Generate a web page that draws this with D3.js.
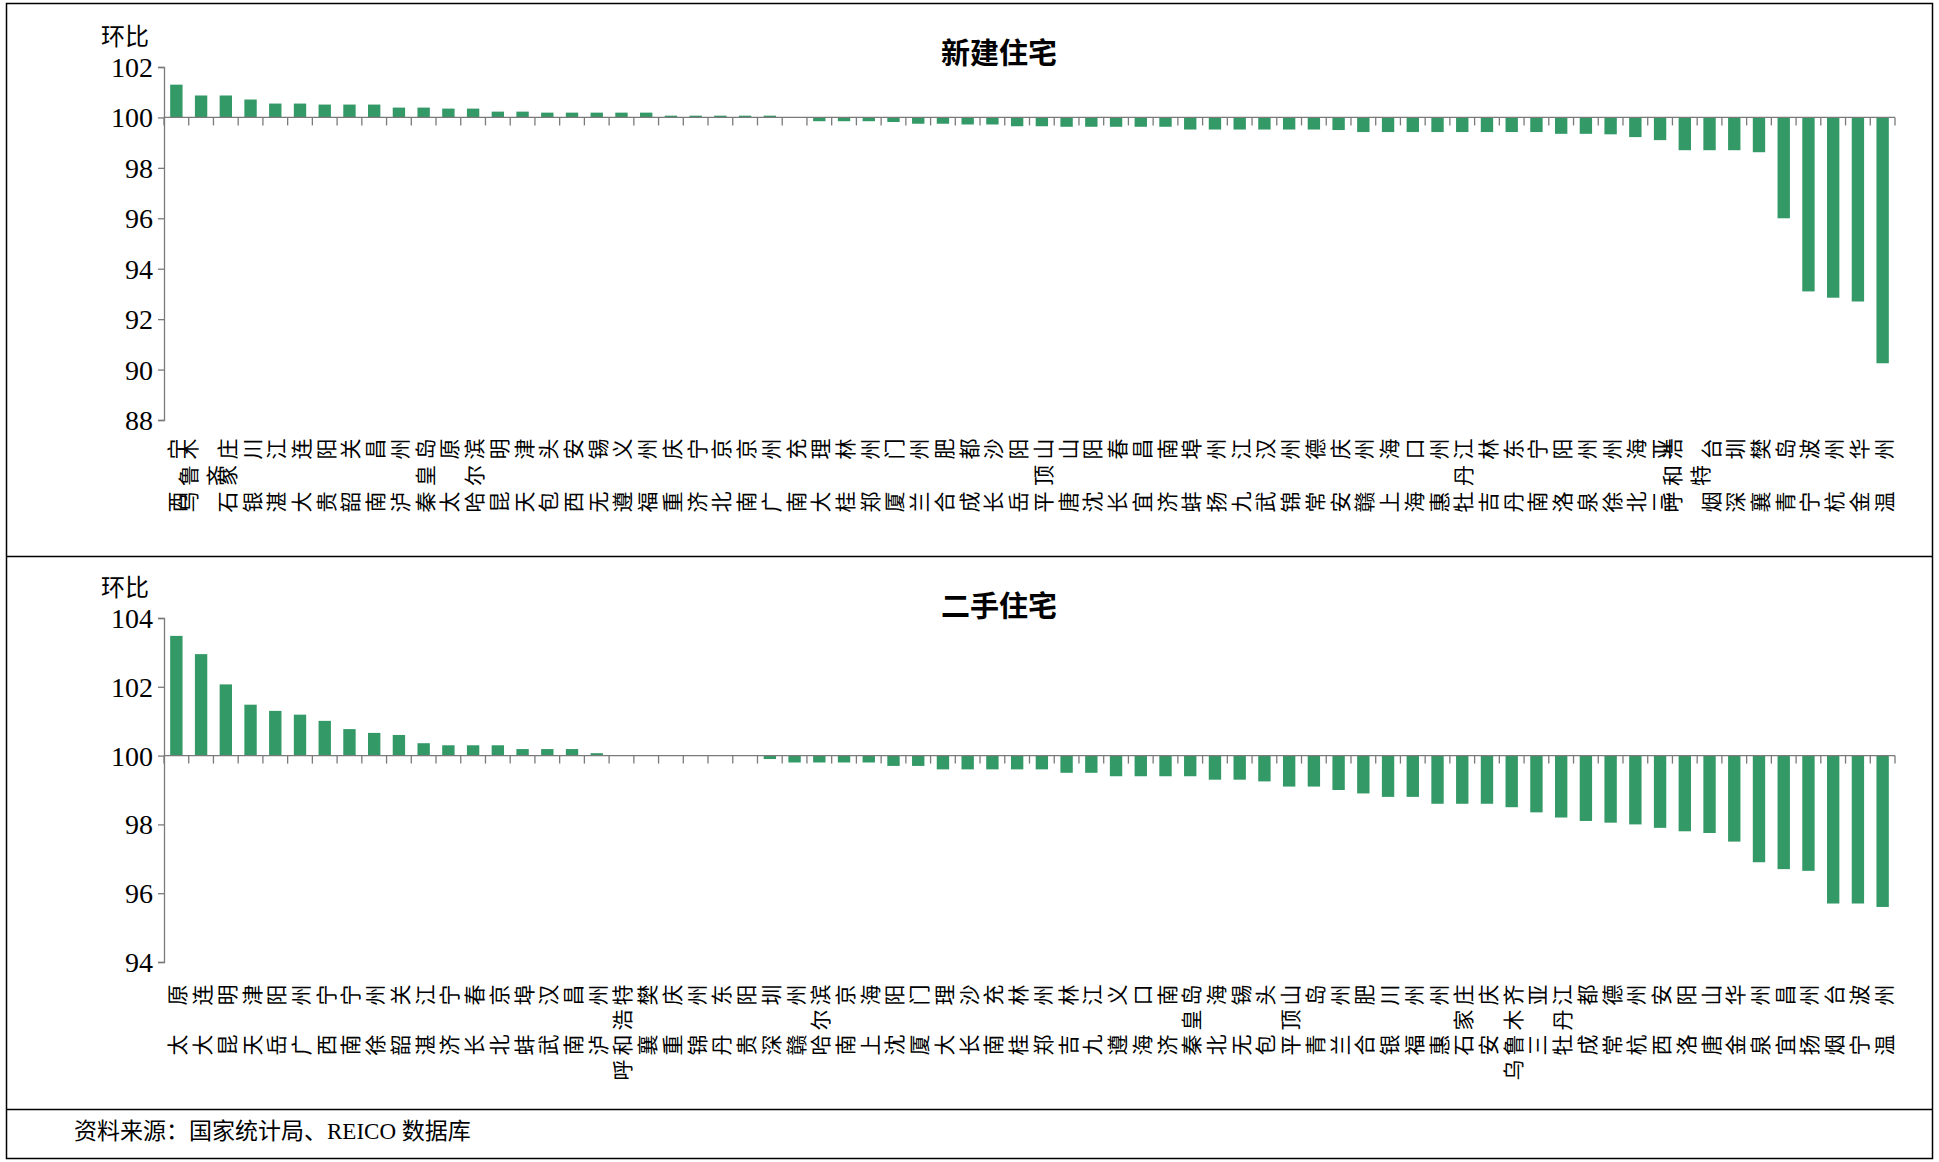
<!DOCTYPE html>
<html>
<head>
<meta charset="utf-8">
<script src="https://cdn.jsdelivr.net/npm/d3@7/dist/d3.min.js"></script>
<style>
  html, body { margin: 0; padding: 0; background: #fff; }
  svg { display: block; }
  text { font-family: "Liberation Serif", "Noto Sans CJK SC", serif; fill: #000; }
</style>
</head>
<body>
<svg id="chart" width="1939" height="1162"></svg>
<script>
// 70 城市房价环比指数（上月=100）
const newCities = ["西宁","乌鲁木齐","石家庄","银川","湛江","大连","贵阳","韶关","南昌","泸州",
  "秦皇岛","太原","哈尔滨","昆明","天津","包头","西安","无锡","遵义","福州",
  "重庆","济宁","北京","南京","广州","南充","大理","桂林","郑州","厦门",
  "兰州","合肥","成都","长沙","岳阳","平顶山","唐山","沈阳","长春","宜昌",
  "济南","蚌埠","扬州","九江","武汉","锦州","常德","安庆","赣州","上海",
  "海口","惠州","牡丹江","吉林","丹东","南宁","洛阳","泉州","徐州","北海",
  "三亚","呼和浩特","烟台","深圳","襄樊","青岛","宁波","杭州","金华","温州"];
const newValues = [101.3,100.87,100.87,100.71,100.55,100.55,100.51,100.51,100.51,100.39,
  100.39,100.35,100.35,100.23,100.23,100.19,100.19,100.19,100.19,100.19,
  100.07,100.07,100.07,100.07,100.07,100.0,99.85,99.85,99.85,99.82,
  99.75,99.75,99.72,99.72,99.65,99.65,99.63,99.63,99.63,99.63,
  99.63,99.52,99.52,99.52,99.52,99.52,99.52,99.5,99.42,99.42,
  99.42,99.42,99.42,99.42,99.42,99.42,99.35,99.35,99.33,99.22,
  99.1,98.7,98.7,98.7,98.62,96.0,93.1,92.85,92.7,90.25];
const newTicks = [88, 90, 92, 94, 96, 98, 100, 102];

const usedCities = ["太原","大连","昆明","天津","岳阳","广州","西宁","南宁","徐州","韶关",
  "湛江","济宁","长春","北京","蚌埠","武汉","南昌","泸州","呼和浩特","襄樊",
  "重庆","锦州","丹东","贵阳","深圳","赣州","哈尔滨","南京","上海","沈阳",
  "厦门","大理","长沙","南充","桂林","郑州","吉林","九江","遵义","海口",
  "济南","秦皇岛","北海","无锡","包头","平顶山","青岛","兰州","合肥","银川",
  "福州","惠州","石家庄","安庆","乌鲁木齐","三亚","牡丹江","成都","常德","杭州",
  "西安","洛阳","唐山","金华","泉州","宜昌","扬州","烟台","宁波","温州"];
const usedValues = [103.48,102.95,102.07,101.48,101.3,101.19,101.01,100.77,100.66,100.6,
  100.36,100.3,100.3,100.3,100.19,100.19,100.19,100.07,100.0,100.0,
  100.0,100.0,100.0,100.0,99.9,99.8,99.8,99.8,99.8,99.7,
  99.7,99.6,99.6,99.6,99.6,99.6,99.5,99.5,99.4,99.4,
  99.4,99.4,99.3,99.3,99.25,99.1,99.1,99.0,98.9,98.8,
  98.8,98.6,98.6,98.6,98.5,98.35,98.2,98.1,98.05,98.0,
  97.9,97.8,97.75,97.5,96.9,96.7,96.65,95.7,95.7,95.6];
const usedTicks = [94, 96, 98, 100, 102, 104];

const titles = ["新建住宅", "二手住宅"];
const yAxisTitle = "环比";
const sourceNote = "资料来源：国家统计局、REICO 数据库";

const svg = d3.select("#chart");
const W = 1939, H = 1162;
const BAR = "#339966", AXIS = "#7a7a7a";

svg.append("rect").attr("width", W).attr("height", H).attr("fill", "#fff");
// outer frame and panel separators
svg.append("rect").attr("x", 6.5).attr("y", 3.5).attr("width", 1926).attr("height", 1155)
  .attr("fill", "none").attr("stroke", "#000").attr("stroke-width", 1.5);
[556.5, 1109.5].forEach(y => svg.append("line").attr("x1", 6.5).attr("x2", 1932.5)
  .attr("y1", y).attr("y2", y).attr("stroke", "#000").attr("stroke-width", 1.5));

function drawPanel(opt) {
  const g = svg.append("g");
  const x = d3.scaleBand().domain(opt.cities).range([164, 1895])
    .paddingInner(0.5).paddingOuter(0.25);
  const y = d3.scaleLinear().domain(d3.extent(opt.ticks)).range([opt.yBottom, opt.yTop]);
  const base = y(100);

  // bars grow from the 100 line
  g.selectAll("rect.bar").data(opt.values).join("rect")
    .attr("class", "bar")
    .attr("x", (d, i) => x(opt.cities[i]))
    .attr("width", x.bandwidth())
    .attr("y", d => y(Math.max(d, 100)))
    .attr("height", d => Math.abs(y(d) - base))
    .attr("fill", BAR);

  // y axis
  const yAxis = d3.axisLeft(y).tickValues(opt.ticks).tickSize(6).tickFormat(d3.format("d"));
  const ya = g.append("g").attr("transform", "translate(164,0)").call(yAxis);
  ya.select(".domain").attr("stroke", AXIS).attr("stroke-width", 1.3);
  ya.selectAll(".tick line").attr("stroke", AXIS).attr("stroke-width", 1.3);
  ya.selectAll(".tick text").attr("x", -11).attr("dy", "0.34em")
    .style("font-size", "28px").style("font-family", "'Liberation Serif', serif");

  // category axis on the 100 line: boundary ticks pointing down
  const step = x.step();
  const x0 = 164;
  const ax = g.append("g");
  ax.append("line").attr("x1", x0).attr("x2", 1895).attr("y1", base).attr("y2", base)
    .attr("stroke", AXIS).attr("stroke-width", 1.3);
  ax.selectAll("line.tk").data(d3.range(opt.cities.length + 1)).join("line")
    .attr("class", "tk")
    .attr("x1", i => x0 + i * step).attr("x2", i => x0 + i * step)
    .attr("y1", base).attr("y2", base + 8)
    .attr("stroke", AXIS).attr("stroke-width", 1.3);

  // vertical city labels, characters stacked downward
  const pitch = opt.pitch;
  opt.cities.forEach((name, i) => {
    const cx = x(name) + x.bandwidth() / 2;
    let lines;
    if (name.length === 2) lines = [name[0] + "\u3000" + name[1]];
    else if (name.length === 4 && opt.wrapLong) lines = [name.slice(0, 3), name.slice(3)];
    else lines = [name];
    const rows = lines[0].length;
    const t = g.append("text")
      .attr("transform", `translate(${cx},0) rotate(-90)`)
      .attr("dominant-baseline", "central")
      .style("font-size", "21px")
      .style("font-family", "'Noto Sans CJK SC', sans-serif");
    lines.forEach((ln, li) => {
      const off = lines.length > 1 ? (li === 0 ? -opt.lineGap / 2 : opt.lineGap / 2) : 0;
      const shift = (rows - ln.length) / 2;
      for (let j = 0; j < ln.length; j++) {
        const r = ln.length - 1 - j + shift;
        t.append("tspan")
          .attr("x", -(opt.labelTop + r * pitch))
          .attr("y", off)
          .attr("text-anchor", "middle")
          .text(ln[j]);
      }
    });
  });

  // titles
  g.append("text").attr("x", 101).attr("y", opt.yTop - 33).attr("dominant-baseline", "central")
    .style("font-size", "24px").style("font-family", "'Noto Sans CJK SC', sans-serif")
    .text(yAxisTitle);
  g.append("text").attr("x", 999).attr("y", opt.titleY).attr("text-anchor", "middle")
    .attr("dominant-baseline", "central")
    .style("font-size", "29px").style("font-weight", "bold")
    .style("font-family", "'Noto Sans CJK SC', sans-serif")
    .text(opt.title);
}

drawPanel({ cities: newCities, values: newValues, ticks: newTicks,
  yTop: 67, yBottom: 420, title: titles[0], titleY: 51,
  labelTop: 449, pitch: 26.5, wrapLong: true, lineGap: 28 });
drawPanel({ cities: usedCities, values: usedValues, ticks: usedTicks,
  yTop: 618, yBottom: 962, title: titles[1], titleY: 604,
  labelTop: 995, pitch: 25, wrapLong: false, lineGap: 28 });

svg.append("text").attr("x", 74).attr("y", 1131).attr("dominant-baseline", "central")
  .style("font-size", "23px")
  .text(sourceNote);
</script>
</body>
</html>
